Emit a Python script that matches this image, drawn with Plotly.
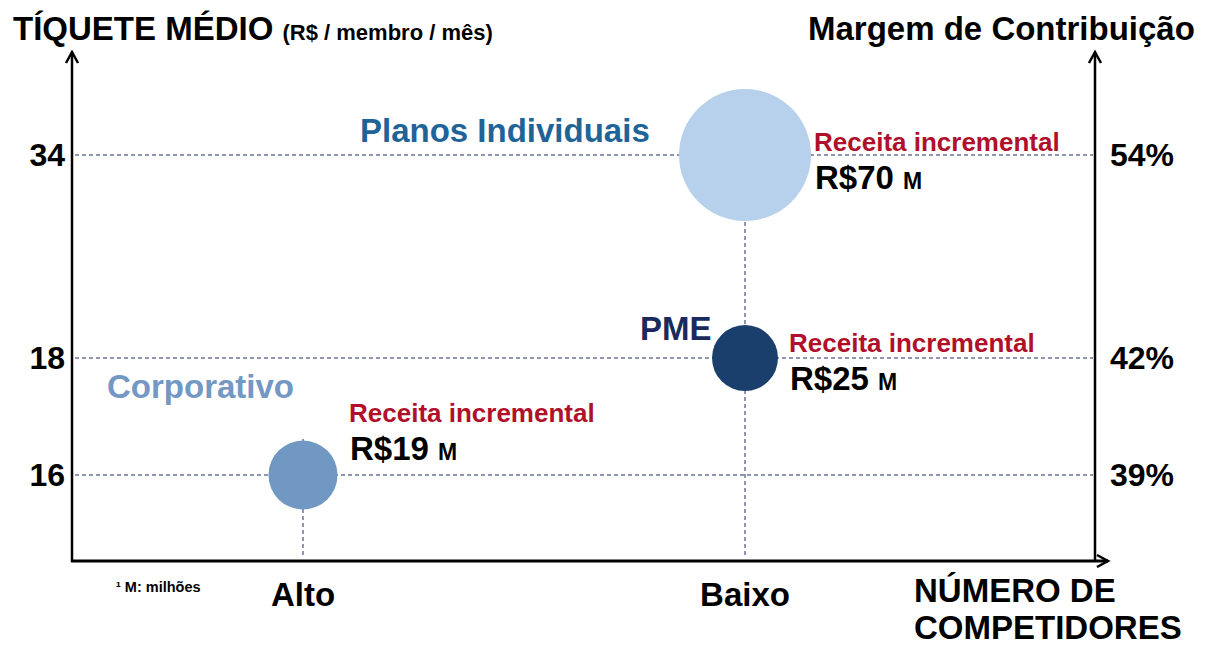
import numpy as np
import plotly.graph_objects as go

# ---------------- data ----------------
segments = ["Corporativo", "PME", "Planos Individuais"]
competitors = ["Alto", "Baixo", "Baixo"]          # número de competidores
ticket = [16, 18, 34]                             # R$ / membro / mês
margin = ["39%", "42%", "54%"]                    # margem de contribuição
revenue = [19, 25, 70]                            # receita incremental (R$ M)
x_categories = ["Alto", "Baixo"]
ticket_ticks = [16, 18, 34]
margin_ticks = ["39%", "42%", "54%"]

# ---------------- style ----------------
bubble_colors = ["#7098C2", "#1B3F6C", "#B7D0EC"]
label_colors = ["#7398C4", "#1B2A5C", "#1F6499"]
bubble_px = [69, 66, 132]
guide_overhang_px = [39, 0]      # how far the vertical guide pokes above each column's top bubble centre
FONT = "Arial, Liberation Sans, sans-serif"
RED = "#B0102A"
DASH_COLOR = "#1F2A64"

# figure geometry (pixels)
FW, FH = 1206, 646
L, R, T, B = 72, 1095, 55, 561
PW, PH = R - L, B - T

# schematic (non-linear) vertical scale: display position of each tick level
tick_pos = [0.0, 1.0, 2.735]
unit_px = 117.0
y_range = [-(B - 475) / unit_px, (475 - T) / unit_px]
x_unit_px = 442.0
x_range = [-(303 - L) / x_unit_px, 1 + (R - 745) / x_unit_px]


def ypos(v):
    return float(np.interp(v, ticket_ticks, tick_pos))


def px(xp):
    return (xp - L) / PW


def py(yp):
    return (B - yp) / PH


xs = [x_categories.index(c) for c in competitors]
ys = [ypos(v) for v in ticket]
tick_y = [ypos(v) for v in ticket_ticks]

fig = go.Figure()
fig.add_trace(go.Scatter(
    x=xs, y=ys, mode="markers",
    marker=dict(size=bubble_px, color=bubble_colors, line=dict(width=0), opacity=1),
    hoverinfo="text", text=segments, showlegend=False,
))
# invisible trace for right axis
fig.add_trace(go.Scatter(x=[xs[0]], y=[ys[0]], yaxis="y2", mode="markers",
                         marker=dict(opacity=0), showlegend=False, hoverinfo="skip"))

shapes = []
# horizontal dashed guides
for ty in tick_y:
    shapes.append(dict(type="line", xref="paper", yref="y", x0=px(75), x1=px(1093), y0=ty, y1=ty,
                       line=dict(color=DASH_COLOR, width=1, dash="4px,3px"), layer="below"))
# vertical dashed guides from the top bubble of each column down to the axis
bottom_y = y_range[0] + 6 / unit_px
for xi in range(len(x_categories)):
    idx = [i for i, c in enumerate(competitors) if c == x_categories[xi]]
    i_top = max(idx, key=lambda i: ys[i])
    top = ys[i_top] + guide_overhang_px[xi] / unit_px
    shapes.append(dict(type="line", xref="x", yref="y", x0=xi, x1=xi, y0=bottom_y, y1=top,
                       line=dict(color=DASH_COLOR, width=1, dash="4px,3px"), layer="below"))

# axes with arrows
ax_line = dict(color="black", width=2.5)
shapes += [
    dict(type="line", xref="paper", yref="paper", x0=px(L), x1=px(L), y0=py(B + 1), y1=py(52), line=ax_line),
    dict(type="path", xref="paper", yref="paper",
         path=f"M {px(L-6)},{py(63)} L {px(L)},{py(52)} L {px(L+6)},{py(63)}", line=ax_line),
    dict(type="line", xref="paper", yref="paper", x0=px(R), x1=px(R), y0=py(B), y1=py(52), line=ax_line),
    dict(type="path", xref="paper", yref="paper",
         path=f"M {px(R-6)},{py(63)} L {px(R)},{py(52)} L {px(R+6)},{py(63)}", line=ax_line),
    dict(type="line", xref="paper", yref="paper", x0=px(L - 1), x1=px(1108), y0=py(B), y1=py(B),
         line=dict(color="black", width=3)),
    dict(type="path", xref="paper", yref="paper",
         path=f"M {px(1097)},{py(555)} L {px(1108)},{py(B)} L {px(1097)},{py(567)}", line=ax_line),
]

annotations = []
# per-bubble labels (pixel offsets from bubble centre)
name_shift = [(-7, 89), (-31, 30), (-93, 25)]
info_shift = [(44, 62), (42, 15), (67, 13)]
value_shift = [(45, 27), (43, -20), (68, -22)]
for i in range(len(segments)):
    annotations.append(dict(x=xs[i], y=ys[i], xref="x", yref="y", text=f"<b>{segments[i]}</b>",
                            showarrow=False, xanchor="right", yanchor="middle",
                            xshift=name_shift[i][0], yshift=name_shift[i][1],
                            font=dict(family=FONT, size=33, color=label_colors[i])))
    annotations.append(dict(x=xs[i], y=ys[i], xref="x", yref="y", text="<b>Receita incremental</b>",
                            showarrow=False, xanchor="left", yanchor="middle",
                            xshift=info_shift[i][0], yshift=info_shift[i][1],
                            font=dict(family=FONT, size=26, color=RED)))
    annotations.append(dict(x=xs[i], y=ys[i], xref="x", yref="y",
                            text=f"<b>R${revenue[i]} <span style='font-size:23px'>M</span></b>",
                            showarrow=False, xanchor="left", yanchor="middle",
                            xshift=value_shift[i][0], yshift=value_shift[i][1],
                            font=dict(family=FONT, size=33, color="black")))

# titles
annotations += [
    dict(x=px(11), y=py(28), xref="paper", yref="paper", xanchor="left", yanchor="middle", showarrow=False,
         text="<b>TÍQUETE MÉDIO <span style='font-size:22px'>(R$ / membro / mês)</span></b>",
         font=dict(family=FONT, size=33, color="black")),
    dict(x=px(1197), y=py(28), xref="paper", yref="paper", xanchor="right", yanchor="middle", showarrow=False,
         text="<b>Margem de Contribuição</b>", font=dict(family=FONT, size=33, color="black")),
    dict(x=px(912), y=py(590), xref="paper", yref="paper", xanchor="left", yanchor="middle", showarrow=False,
         text="<b>NÚMERO DE</b>", font=dict(family=FONT, size=33, color="black")),
    dict(x=px(912), y=py(627), xref="paper", yref="paper", xanchor="left", yanchor="middle", showarrow=False,
         text="<b>COMPETIDORES</b>", font=dict(family=FONT, size=33, color="black")),
    dict(x=px(114), y=py(587), xref="paper", yref="paper", xanchor="left", yanchor="middle", showarrow=False,
         text="<b>¹ M: milhões</b>", font=dict(family=FONT, size=14.5, color="black")),
]

fig.update_layout(
    width=FW, height=FH,
    margin=dict(l=L, r=FW - R, t=T, b=FH - B, pad=0),
    paper_bgcolor="white", plot_bgcolor="white",
    showlegend=False,
    shapes=shapes, annotations=annotations,
    xaxis=dict(range=x_range, tickvals=list(range(len(x_categories))),
               ticktext=[f"<b>{c}</b>" for c in x_categories],
               tickfont=dict(family=FONT, size=33, color="black"),
               showgrid=False, zeroline=False, showline=False, ticks="", ticklabelstandoff=11),
    yaxis=dict(range=y_range, tickvals=tick_y, ticktext=[f"<b>{t}</b>" for t in ticket_ticks],
               tickfont=dict(family=FONT, size=32, color="black"),
               showgrid=False, zeroline=False, showline=False, ticks="", ticklabelstandoff=6),
    yaxis2=dict(range=y_range, overlaying="y", side="right", tickvals=tick_y,
                ticktext=[f"<b>{t}</b>" for t in margin_ticks],
                tickfont=dict(family=FONT, size=32, color="black"),
                showgrid=False, zeroline=False, showline=False, ticks="", ticklabelstandoff=14),
)

fig.write_html("out.html", config={"displayModeBar": False},
               post_script="document.body.style.margin='0px';document.body.style.overflow='hidden';")
